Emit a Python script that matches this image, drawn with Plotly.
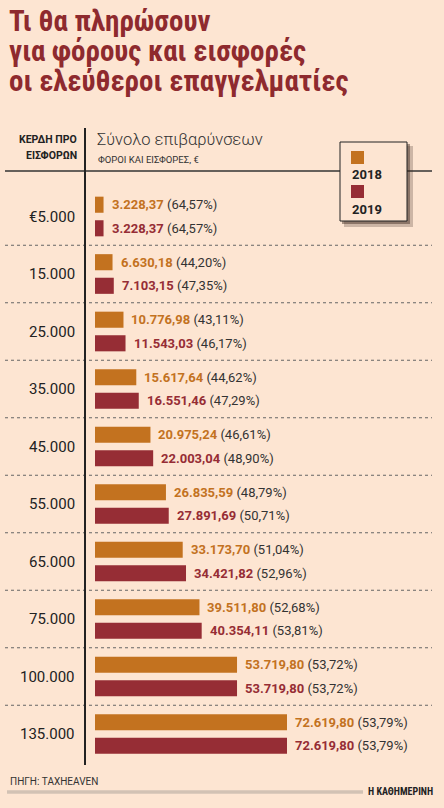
import plotly.graph_objects as go

W, H = 444, 808

income = ['€5.000', '15.000', '25.000', '35.000', '45.000', '55.000',
          '65.000', '75.000', '100.000', '135.000']
tax_2018 = [3228.37, 6630.18, 10776.98, 15617.64, 20975.24, 26835.59,
            33173.70, 39511.80, 53719.80, 72619.80]
pct_2018 = [64.57, 44.20, 43.11, 44.62, 46.61, 48.79, 51.04, 52.68, 53.72, 53.79]
tax_2019 = [3228.37, 7103.15, 11543.03, 16551.46, 22003.04, 27891.69,
            34421.82, 40354.11, 53719.80, 72619.80]
pct_2019 = [64.57, 47.35, 46.17, 47.29, 48.90, 50.71, 52.96, 53.81, 53.72, 53.79]

C18 = '#C3721F'
C19 = '#962D35'
BG = '#FDE5D2'
TITLE_C = '#8E2A2E'
NARROW = 'Liberation Sans Narrow, Roboto Condensed, Roboto, sans-serif'
FONT = 'Roboto, sans-serif'

# pixel helpers (margins are zero, so paper == page)
def px(x):
    return x / W

def py(y):
    return 1 - y / H

# row layout: row i centre in pixels = ROW0 + i * STEP
ROW0, STEP = 216.5, 57.5
X0, KPX = 95, 192 / 72619.8   # bar origin in px, px per euro


def gr(v, dec=2):
    s = f'{v:,.{dec}f}'
    return s.replace(',', 'X').replace('.', ',').replace('X', '.')


n = len(income)
rows = list(range(n))

fig = go.Figure()
fig.add_trace(go.Bar(y=[i - 0.205 for i in rows], x=tax_2018, orientation='h',
                     width=0.28, marker=dict(color=C18, line=dict(width=0)),
                     name='2018', hoverinfo='x'))
fig.add_trace(go.Bar(y=[i + 0.205 for i in rows], x=tax_2019, orientation='h',
                     width=0.28, marker=dict(color=C19, line=dict(width=0)),
                     name='2019', hoverinfo='x'))

ann = []
shapes = []

# value labels
for i in rows:
    for v, p, c, off in [(tax_2018[i], pct_2018[i], C18, -0.205),
                         (tax_2019[i], pct_2019[i], C19, 0.205)]:
        ann.append(dict(x=v, y=i + off, xref='x', yref='y', xanchor='left',
                        yanchor='middle', xshift=6, showarrow=False,
                        text=f"<b><span style='color:{c}'>{gr(v)}</span></b> "
                             f"<span style='color:#333'>({gr(p)}%)</span>",
                        font=dict(family=FONT, size=13, color='#333')))
    # income label
    ann.append(dict(x=px(77), y=i, xref='paper', yref='y', xanchor='right',
                    yanchor='middle', showarrow=False, text=income[i],
                    font=dict(family=FONT, size=15, color='#222')))
    if i < n - 1:
        shapes.append(dict(type='line', xref='paper', yref='y',
                           x0=px(5), x1=px(432), y0=i + 0.5, y1=i + 0.5,
                           line=dict(color='#666', width=1, dash='dot')))

# title
for k, line in enumerate(['Τι θα πληρώσουν', 'για φόρους και εισφορές',
                          'οι ελεύθεροι επαγγελματίες']):
    ann.append(dict(x=px(7), y=py(21 + 30 * k), xref='paper', yref='paper',
                    xanchor='left', yanchor='middle', showarrow=False,
                    text=f'<b>{line}</b>',
                    font=dict(family=NARROW, size=29, color=TITLE_C)))

# header
ann += [
    dict(x=px(79), y=py(140), text='<b>ΚΕΡΔΗ ΠΡΟ</b>', xanchor='right',
         font=dict(family=FONT, size=10.5, color='#222')),
    dict(x=px(79), y=py(156), text='<b>ΕΙΣΦΟΡΩΝ</b>', xanchor='right',
         font=dict(family=FONT, size=10.5, color='#222')),
    dict(x=px(95), y=py(139), text='Σύνολο επιβαρύνσεων', xanchor='left',
         font=dict(family=FONT, size=16.5, color='#333', weight=300)),
    dict(x=px(96), y=py(160), text='ΦΟΡΟΙ ΚΑΙ ΕΙΣΦΟΡΕΣ, €', xanchor='left',
         font=dict(family=FONT, size=9.5, color='#333')),
    dict(x=px(350), y=py(175), text='<b>2018</b>', xanchor='left',
         font=dict(family=FONT, size=13, color='#222')),
    dict(x=px(350), y=py(209), text='<b>2019</b>', xanchor='left',
         font=dict(family=FONT, size=13, color='#222')),
    dict(x=px(8), y=py(781), text='ΠΗΓΗ: TAXHEAVEN', xanchor='left',
         font=dict(family=FONT, size=10, color='#333')),
    dict(x=px(435), y=py(791), text='<b>Η ΚΑΘΗΜΕΡΙΝΗ</b>', xanchor='right',
         font=dict(family=NARROW, size=10, color='#222')),
]
for a in ann[-8:]:
    a.update(xref='paper', yref='paper', yanchor='middle', showarrow=False)

shapes += [
    # header rule and vertical divider
    dict(type='line', xref='paper', yref='paper', x0=px(5), x1=px(432),
         y0=py(171), y1=py(171), line=dict(color='#333', width=1.5)),
    dict(type='line', xref='paper', yref='paper', x0=px(85), x1=px(85),
         y0=py(128), y1=py(765), line=dict(color='#222', width=2)),
    # legend box with soft shadow
    dict(type='rect', xref='paper', yref='paper', x0=px(344), x1=px(413),
         y0=py(146), y1=py(227), line=dict(width=0),
         fillcolor='rgba(60,40,30,0.25)'),
    dict(type='rect', xref='paper', yref='paper', x0=px(342), x1=px(410),
         y0=py(144), y1=py(224), line=dict(width=0),
         fillcolor='rgba(60,40,30,0.45)'),
    dict(type='rect', xref='paper', yref='paper', x0=px(340), x1=px(407),
         y0=py(142), y1=py(221), line=dict(color='#222', width=1),
         fillcolor=BG),
    dict(type='rect', xref='paper', yref='paper', x0=px(351), x1=px(364),
         y0=py(151), y1=py(164), line=dict(width=0), fillcolor=C18),
    dict(type='rect', xref='paper', yref='paper', x0=px(351), x1=px(364),
         y0=py(185), y1=py(198), line=dict(width=0), fillcolor=C19),
    # footer bar
    dict(type='line', xref='paper', yref='paper', x0=px(7), x1=px(363),
         y0=py(792), y1=py(792), line=dict(color='#D2C2B4', width=3.5)),
]

fig.update_layout(
    width=W, height=H,
    margin=dict(l=0, r=0, t=0, b=0),
    paper_bgcolor=BG, plot_bgcolor=BG,
    showlegend=False,
    xaxis=dict(range=[-X0 / KPX, (W - X0) / KPX], visible=False, fixedrange=True),
    yaxis=dict(range=[(H - ROW0) / STEP, -ROW0 / STEP], visible=False,
               fixedrange=True),
    annotations=ann,
    shapes=shapes,
)

# the page body has a default 8px margin; drop it so the chart fills the window
fig.write_html('out.html', config={'displayModeBar': False},
               post_script="document.body.style.margin='0';"
                           "document.body.style.background='" + BG + "';")
